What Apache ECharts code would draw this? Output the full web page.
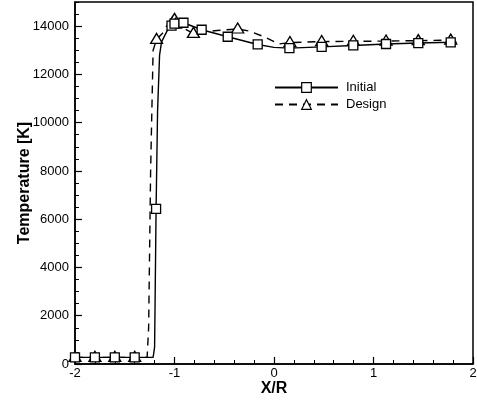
<!DOCTYPE html>
<html>
<head>
<meta charset="utf-8">
<script src="https://cdn.jsdelivr.net/npm/echarts@6/dist/echarts.min.js"></script>
<style>
  html, body { margin: 0; padding: 0; background: #fff; }
  #chart { width: 477px; height: 406px; }
</style>
</head>
<body>
<div id="chart"></div>
<script>
// Temperature profile along the stagnation line
const initialX = [-2, -1.8, -1.6, -1.4, -1.215, -1.2, -1.185, -1.17, -1.15, -1.13, -1.05, -1.03, -1.0, -0.91, -0.727, -0.465, -0.164, 0.0, 0.155, 0.479, 0.797, 1.126, 1.45, 1.776, 1.835];
const initialY = [275, 275, 275, 275, 275, 700, 6430, 10500, 12800, 13350, 14000, 14020, 14100, 14140, 13850, 13560, 13240, 13120, 13090, 13140, 13200, 13260, 13300, 13330, 13340];
const initialMarked = [1, 1, 1, 1, 0, 0, 1, 0, 0, 0, 0, 1, 1, 1, 1, 1, 1, 0, 1, 1, 1, 1, 1, 1, 0];

const designX = [-2, -1.8, -1.6, -1.4, -1.275, -1.26, -1.24, -1.215, -1.18, -1.02, -1.0, -0.99, -0.81, -0.6, -0.48, -0.365, -0.25, -0.1, 0.05, 0.16, 0.479, 0.797, 1.126, 1.45, 1.776, 1.835];
const designY = [275, 275, 275, 275, 275, 1500, 8000, 13000, 13450, 14150, 14280, 14080, 13700, 13810, 13850, 13880, 13800, 13560, 13260, 13320, 13360, 13370, 13380, 13400, 13420, 13420];
const designMarked = [1, 1, 1, 1, 0, 0, 0, 0, 1, 1, 1, 1, 1, 0, 0, 1, 0, 0, 0, 1, 1, 1, 1, 1, 1, 0];

const xTicks = { min: -2, max: 2, step: 1 };
const yTicks = { min: 0, max: 15000, step: 2000, minorStep: 500 };

function points(xs, ys, marked) {
  return xs.map((x, i) => marked[i] ? [x, ys[i]] : { value: [x, ys[i]], symbol: 'none' });
}

const font = 'Arial, "Liberation Sans", Helvetica, sans-serif';
const chart = echarts.init(document.getElementById('chart'));

chart.setOption({
  animation: false,
  backgroundColor: '#fff',
  grid: {
    left: 75, right: 4, top: 2, bottom: 42,
    containLabel: false, outerBoundsMode: 'none',
    show: true, borderColor: '#000', borderWidth: 1.5
  },
  legend: {
    left: 269, top: 76, orient: 'vertical',
    itemWidth: 63, itemHeight: 12, itemGap: 4,
    itemStyle: { color: '#fff', borderColor: '#000', borderWidth: 1.2 },
    textStyle: { fontFamily: font, fontSize: 13, color: '#000', padding: [0, 0, 0, 3] },
    data: ['Initial', 'Design']
  },
  xAxis: {
    type: 'value', min: xTicks.min, max: xTicks.max, interval: xTicks.step,
    name: 'X/R', nameLocation: 'middle', nameGap: 17, nameMoveOverlap: false,
    nameTextStyle: { fontFamily: font, fontSize: 16, fontWeight: 'bold', color: '#000' },
    axisLine: { onZero: false, lineStyle: { color: '#000', width: 1.5 } },
    axisTick: { inside: true, length: 7, lineStyle: { color: '#000', width: 1.2 } },
    minorTick: { show: true, splitNumber: 5, length: 4, lineStyle: { color: '#000', width: 1 } },
    axisLabel: { margin: 3, fontFamily: font, fontSize: 13, color: '#000' },
    splitLine: { show: false }
  },
  yAxis: [{
    type: 'value', min: yTicks.min, max: yTicks.max, interval: yTicks.step,
    name: 'Temperature [K]', nameLocation: 'middle', nameGap: 42, nameMoveOverlap: false,
    nameTextStyle: { fontFamily: font, fontSize: 16, fontWeight: 'bold', color: '#000' },
    axisLine: { onZero: false, lineStyle: { color: '#000', width: 1.5 } },
    axisTick: { inside: true, length: 7, lineStyle: { color: '#000', width: 1.2 } },
    axisLabel: { margin: 6, showMaxLabel: false, formatter: v => String(v), fontFamily: font, fontSize: 13, color: '#000' },
    splitLine: { show: false }
  }, {
    type: 'value', position: 'left', min: yTicks.min, max: yTicks.max, interval: yTicks.minorStep,
    axisLine: { show: false, onZero: false },
    axisTick: { inside: true, length: 4, lineStyle: { color: '#000', width: 1 } },
    axisLabel: { show: false },
    splitLine: { show: false }
  }],
  series: [{
    name: 'Initial', type: 'line', yAxisIndex: 0,
    data: points(initialX, initialY, initialMarked),
    symbol: 'rect', symbolSize: 9, showAllSymbol: true,
    lineStyle: { color: '#000', width: 1.4, type: 'solid' },
    itemStyle: { color: '#fff', borderColor: '#000', borderWidth: 1.3 },
    z: 3
  }, {
    name: 'Design', type: 'line', yAxisIndex: 0,
    data: points(designX, designY, designMarked),
    symbol: 'triangle', symbolSize: [12, 10], symbolOffset: [0, -1], showAllSymbol: true,
    lineStyle: { color: '#000', width: 1.4, type: [8, 6] },
    itemStyle: { color: '#fff', borderColor: '#000', borderWidth: 1.3 },
    z: 2
  }]
});
</script>
</body>
</html>
